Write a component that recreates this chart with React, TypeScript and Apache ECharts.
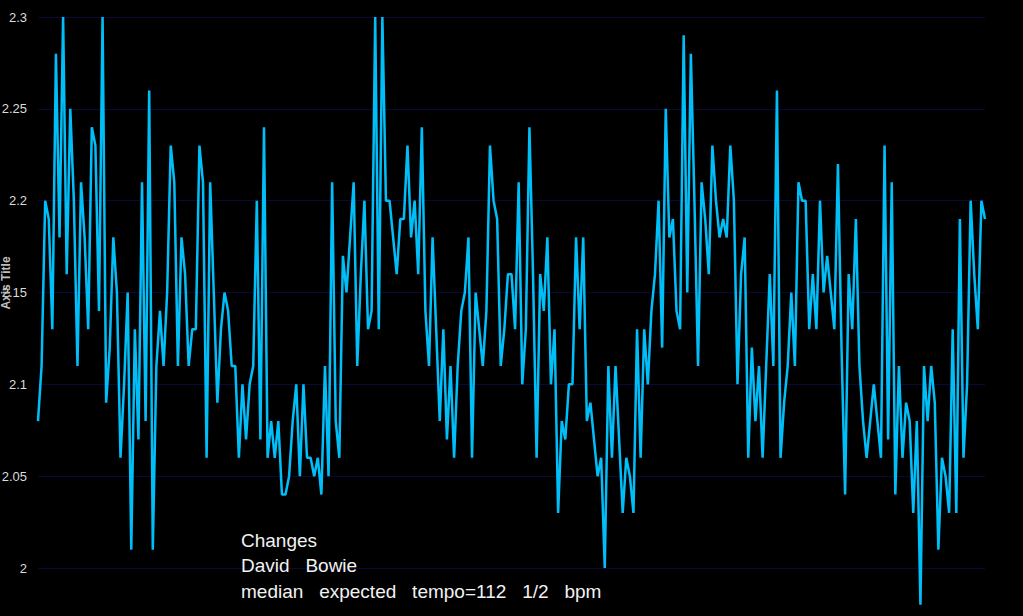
import React, { useEffect, useRef } from "react";
import * as echarts from "echarts";

const values: number[] = [
  2.08, 2.11, 2.20, 2.19, 2.13, 2.28, 2.18, 2.30, 2.16, 2.25,
  2.20, 2.11, 2.21, 2.18, 2.13, 2.24, 2.23, 2.14, 2.30, 2.09,
  2.12, 2.18, 2.15, 2.06, 2.10, 2.15, 2.01, 2.13, 2.07, 2.21,
  2.08, 2.26, 2.01, 2.11, 2.14, 2.11, 2.15, 2.23, 2.21, 2.11,
  2.18, 2.16, 2.11, 2.13, 2.13, 2.23, 2.21, 2.06, 2.21, 2.15,
  2.09, 2.13, 2.15, 2.14, 2.11, 2.11, 2.06, 2.10, 2.07, 2.10,
  2.11, 2.20, 2.07, 2.24, 2.06, 2.08, 2.06, 2.08, 2.04, 2.04,
  2.05, 2.08, 2.10, 2.05, 2.10, 2.06, 2.06, 2.05, 2.06, 2.04,
  2.11, 2.05, 2.21, 2.08, 2.06, 2.17, 2.15, 2.18, 2.21, 2.11,
  2.16, 2.20, 2.13, 2.14, 2.30, 2.13, 2.30, 2.20, 2.20, 2.18,
  2.16, 2.19, 2.19, 2.23, 2.18, 2.20, 2.16, 2.24, 2.14, 2.11,
  2.18, 2.13, 2.08, 2.13, 2.07, 2.11, 2.06, 2.11, 2.14, 2.15,
  2.18, 2.06, 2.15, 2.13, 2.11, 2.14, 2.23, 2.20, 2.19, 2.11,
  2.13, 2.16, 2.16, 2.13, 2.21, 2.10, 2.13, 2.24, 2.16, 2.06,
  2.16, 2.14, 2.18, 2.10, 2.13, 2.03, 2.08, 2.07, 2.10, 2.10,
  2.18, 2.13, 2.18, 2.08, 2.09, 2.07, 2.05, 2.06, 2.00, 2.11,
  2.06, 2.11, 2.07, 2.03, 2.06, 2.05, 2.03, 2.13, 2.06, 2.13,
  2.10, 2.14, 2.16, 2.20, 2.12, 2.25, 2.18, 2.19, 2.14, 2.13,
  2.29, 2.15, 2.28, 2.20, 2.11, 2.21, 2.19, 2.16, 2.23, 2.20,
  2.18, 2.19, 2.18, 2.23, 2.20, 2.10, 2.16, 2.18, 2.06, 2.12,
  2.08, 2.11, 2.06, 2.11, 2.16, 2.11, 2.26, 2.06, 2.09, 2.11,
  2.15, 2.11, 2.21, 2.20, 2.20, 2.13, 2.16, 2.13, 2.20, 2.15,
  2.17, 2.15, 2.13, 2.22, 2.12, 2.04, 2.16, 2.13, 2.19, 2.11,
  2.08, 2.06, 2.08, 2.10, 2.08, 2.06, 2.23, 2.07, 2.21, 2.04,
  2.11, 2.06, 2.09, 2.08, 2.03, 2.08, 1.98, 2.11, 2.08, 2.11,
  2.09, 2.01, 2.06, 2.05, 2.03, 2.13, 2.03, 2.19, 2.06, 2.10,
  2.20, 2.16, 2.13, 2.20, 2.19,
];

const categories: string[] = values.map((_, i) => String(i + 1));

const yTicks = { min: 2, max: 2.3, interval: 0.05 };

const axisTitle = "Axis Title";
const annotationLines: string[] = [
  "Changes",
  "David   Bowie",
  "median   expected   tempo=112   1/2   bpm",
];

export default function App() {
  const ref = useRef<HTMLDivElement>(null);

  useEffect(() => {
    if (!ref.current) return;
    const chart = echarts.init(ref.current, null, { renderer: "svg" });
    const font = "'Liberation Sans', Arial, sans-serif";
    chart.setOption({
      animation: false,
      backgroundColor: "#000000",
      grid: {
        left: 38,
        right: 38,
        top: 17,
        bottom: 48,
        containLabel: false,
        outerBoundsMode: "none",
      },
      xAxis: {
        type: "category",
        data: categories,
        boundaryGap: false,
        show: false,
      },
      yAxis: {
        type: "value",
        min: yTicks.min,
        max: yTicks.max,
        interval: yTicks.interval,
        axisLine: { show: false },
        axisTick: { show: false },
        axisLabel: {
          color: "#dcdcdc",
          fontSize: 13,
          fontFamily: font,
          margin: 11,
        },
        splitLine: { lineStyle: { color: "#08083a", width: 1 } },
      },
      series: [
        {
          type: "line",
          data: values,
          showSymbol: false,
          clip: false,
          lineStyle: { color: "#00bff8", width: 2.5 },
          itemStyle: { color: "#00bff8" },
        },
      ],
      graphic: [
        {
          type: "text",
          x: 6,
          y: 283,
          rotation: Math.PI / 2,
          z: 10,
          style: {
            text: axisTitle,
            fill: "#bfbfbf",
            font: `bold 12px ${font}`,
            align: "center",
            verticalAlign: "middle",
          },
        },
        ...annotationLines.map((t, i) => ({
          type: "text",
          x: 241,
          y: 540 + i * 25.5,
          z: 10,
          style: {
            text: t,
            fill: "#f2f2f2",
            font: `19px ${font}`,
            align: "left",
            verticalAlign: "middle",
          },
        })),
      ],
    });
    return () => chart.dispose();
  }, []);

  return (
    <div
      ref={ref}
      style={{
        position: "fixed",
        left: 0,
        top: 0,
        width: 1023,
        height: 616,
        background: "#000",
      }}
    />
  );
}
